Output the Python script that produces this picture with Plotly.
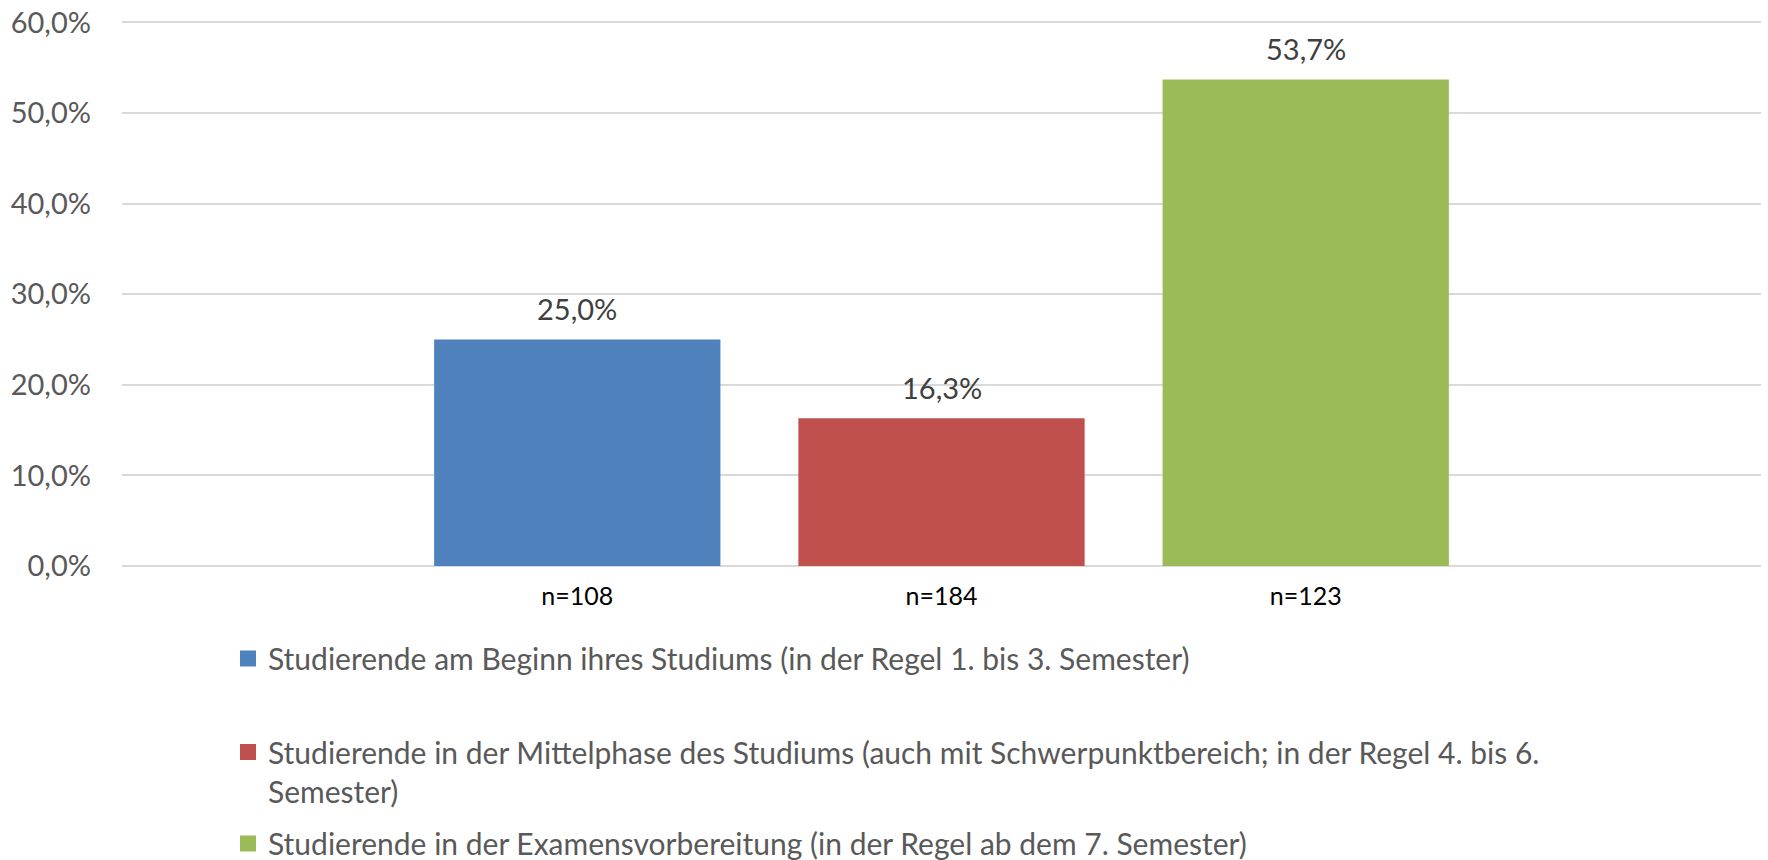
import plotly.graph_objects as go

categories = ["n=108", "n=184", "n=123"]
values = [25.0, 16.3, 53.7]
series_names = [
    "Studierende am Beginn ihres Studiums (in der Regel 1. bis 3. Semester)",
    "Studierende in der Mittelphase des Studiums (auch mit Schwerpunktbereich; in der Regel 4. bis 6.<br>Semester)",
    "Studierende in der Examensvorbereitung (in der Regel ab dem 7. Semester)",
]
colors = ["#4F81BD", "#C0504D", "#9BBB59"]
y_ticks = [0, 10, 20, 30, 40, 50, 60]
y_ticktext = ["0,0%", "10,0%", "20,0%", "30,0%", "40,0%", "50,0%", "60,0%"]

FONT = "Lato, 'Open Sans', sans-serif"
legend_names = ["legend", "legend2", "legend3"]
W, H = 1768, 860

fig = go.Figure()
for i in range(3):
    fig.add_trace(go.Bar(
        x=[categories[i]], y=[values[i]], name=series_names[i],
        marker=dict(color=colors[i], line=dict(width=0)),
        width=0.786, showlegend=False, hoverinfo="skip",
    ))
    # legend entry (square marker, larger than default bar swatch)
    fig.add_trace(go.Scatter(
        x=[None], y=[None], mode="markers", name=series_names[i],
        marker=dict(symbol="square", size=16, color=colors[i]),
        legend=legend_names[i], showlegend=True, hoverinfo="skip",
    ))
    fig.add_annotation(
        x=categories[i], y=values[i], text=f"{values[i]:.1f}%".replace(".", ","),
        showarrow=False, yanchor="middle", yshift=31,
        font=dict(family=FONT, size=29, color="#404040"),
    )

leg_common = dict(font=dict(family=FONT, size=30, color="#595959"),
                  bgcolor="rgba(0,0,0,0)", borderwidth=0,
                  xref="container", yref="container",
                  xanchor="left", x=228 / W, valign="top",
                  itemsizing="trace", yanchor="middle")

fig.update_layout(
    width=W, height=H,
    margin=dict(l=122, r=7, t=21, b=294, autoexpand=False),
    paper_bgcolor="white", plot_bgcolor="white",
    barmode="overlay",
    font=dict(family=FONT, color="#595959"),
    xaxis=dict(type="category", categoryorder="array", categoryarray=categories,
               range=[-1.25, 3.25], showgrid=False, showline=False, zeroline=False,
               tickfont=dict(family=FONT, size=25, color="#000000"), ticks="",
               ticklabelstandoff=13, automargin=False, fixedrange=True),
    yaxis=dict(range=[0, 60.15], tickvals=y_ticks, ticktext=y_ticktext,
               showgrid=True, gridcolor="#D9D9D9", gridwidth=1.5,
               zeroline=True, zerolinecolor="#D9D9D9", zerolinewidth=1.5,
               showline=False, ticks="", ticklabelstandoff=30,
               ticklabeloverflow="allow",
               tickfont=dict(family=FONT, size=29, color="#595959"),
               automargin=False, fixedrange=True),
    legend=dict(**leg_common, y=1 - 658.5 / H),
    legend2=dict(**leg_common, y=1 - 771.5 / H),
    legend3=dict(**leg_common, y=1 - 843.5 / H),
)

fig.write_html("out.html", config={"displayModeBar": False},
               post_script="document.body.style.margin='0';")
